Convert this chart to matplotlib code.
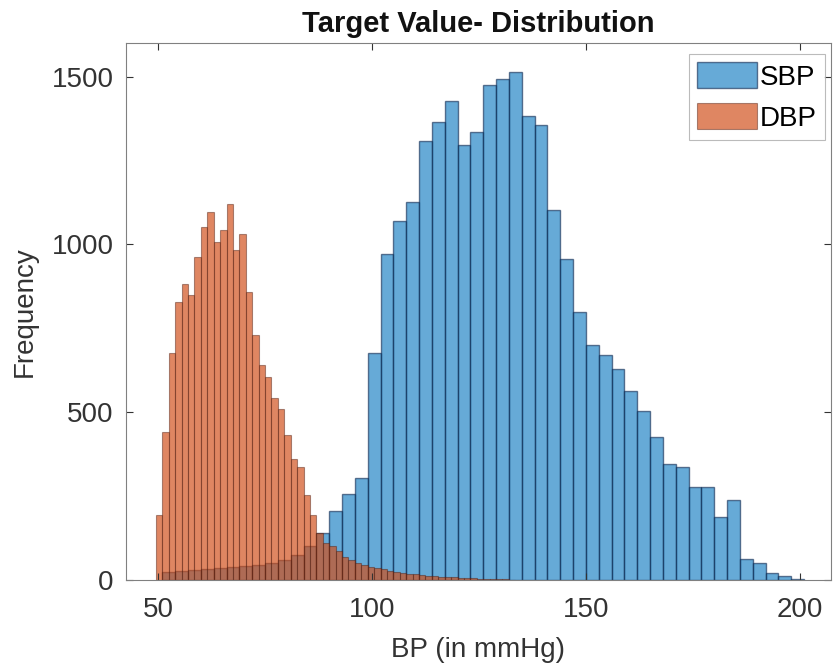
import numpy as np
import matplotlib
matplotlib.use("Agg")
import matplotlib.pyplot as plt

# histogram counts
sbp_start, sbp_width = 51.0, 3.0
sbp_counts = [25, 28, 30, 32, 35, 38, 42, 46, 52, 60, 75, 100, 140,
              207, 255, 305, 676, 970, 1069, 1127, 1307, 1366, 1426, 1297,
              1334, 1475, 1494, 1513, 1384, 1357, 1101, 957, 798, 699, 670,
              630, 563, 504, 426, 347, 337, 278, 278, 187, 238, 62, 50, 22,
              12, 4]

dbp_start, dbp_width = 49.5, 1.5
dbp_counts = [193, 441, 675, 828, 883, 848, 962, 1052, 1096, 1007, 1042,
              1121, 982, 1032, 858, 729, 640, 605, 541, 511, 432, 362, 337,
              253, 193, 140, 110, 100, 85, 70, 60, 52, 46, 40, 36, 32, 28,
              25, 22, 19, 17, 15, 13, 12, 10, 9, 8, 7, 6, 5, 4, 3, 3, 2, 2, 1]

labels = ["SBP", "DBP"]
x_ticks = [50, 100, 150, 200]
y_ticks = [0, 500, 1000, 1500]

plt.rcParams['font.family'] = ['Liberation Sans', 'DejaVu Sans']
txt = '#333333'

fig = plt.figure(figsize=(8.36, 6.67), dpi=100)
ax = fig.add_axes([0.1507, 0.1304, 0.8433, 0.8051])

sbp_left = sbp_start + sbp_width * np.arange(len(sbp_counts))
dbp_left = dbp_start + dbp_width * np.arange(len(dbp_counts))

ax.bar(sbp_left, sbp_counts, width=sbp_width, align='edge',
       color=(0, 0.447, 0.741, 0.6), edgecolor=(0.05, 0.15, 0.3, 0.6),
       linewidth=1.0, label=labels[0])
ax.bar(dbp_left, dbp_counts, width=dbp_width, align='edge',
       color=(0.82, 0.30, 0.09, 0.68), edgecolor=(0.3, 0.1, 0.05, 0.45),
       linewidth=0.8, label=labels[1])

ax.set_xlim(42.5, 207.3)
ax.set_ylim(0, 1600)
ax.set_xticks(x_ticks)
ax.set_yticks(y_ticks)
ax.tick_params(direction='in', length=5, width=0.8, top=True, right=True,
               labelsize=20, colors=txt)
ax.tick_params(axis='x', pad=12)
ax.tick_params(axis='y', pad=9)
for s in ax.spines.values():
    s.set_color('#808080')
    s.set_linewidth(0.8)

ax.set_title("Target Value- Distribution", fontsize=21, fontweight='bold',
             color='#111111', pad=8)
ax.set_xlabel("BP (in mmHg)", fontsize=20, color=txt, labelpad=10)
ax.set_ylabel("Frequency", fontsize=20, color=txt, labelpad=10)

leg = ax.legend(loc='upper right', bbox_to_anchor=(825 / 836, 1 - 54 / 667),
                bbox_transform=fig.transFigure, borderaxespad=0,
                fontsize=20, frameon=True, fancybox=False,
                handlelength=2.15, handleheight=1.05, handletextpad=0.1,
                labelspacing=0.45, borderpad=0.3)
leg.get_frame().set_edgecolor('#aaaaaa')
leg.get_frame().set_linewidth(0.8)

fig.savefig("out.png", dpi=100)
